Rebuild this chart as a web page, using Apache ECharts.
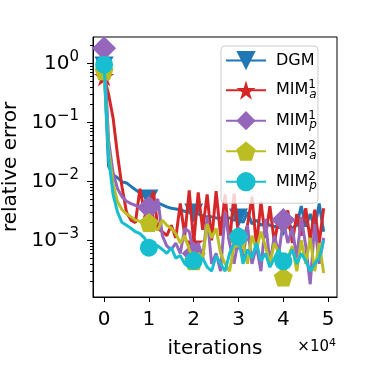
<!DOCTYPE html>
<html>
<head>
<meta charset="utf-8">
<script src="https://cdn.jsdelivr.net/npm/echarts@6/dist/echarts.min.js"></script>
<style>
  html, body { margin: 0; padding: 0; background: #fff; }
  #chart { width: 374px; height: 374px; }
</style>
</head>
<body>
<div id="chart"></div>
<script>
// iterations, one point every 1000
const iterations = [];
for (let i = 0; i < 50; i++) iterations.push(i * 1000);

const dgm = [0.9, 0.018, 0.013, 0.0115, 0.0098, 0.0094, 0.0082, 0.0072, 0.0064, 0.0057,
  0.005, 0.0046, 0.0043, 0.004, 0.0037, 0.0035, 0.0034, 0.0033, 0.0031, 0.003,
  0.0029, 0.0028, 0.0026, 0.0025, 0.0025, 0.0024, 0.0024, 0.0023, 0.0024, 0.0022,
  0.0024, 0.002, 0.003, 0.0019, 0.0022, 0.0018, 0.002, 0.0018, 0.0017, 0.0018,
  0.0017, 0.0019, 0.0016, 0.0018, 0.0038, 0.0017, 0.0028, 0.0016, 0.0042, 0.0014];
const mimA1 = [0.6, 0.3, 0.12, 0.028, 0.008, 0.003, 0.0022, 0.002, 0.0075, 0.003,
  0.0035, 0.0068, 0.0016, 0.0014, 0.0012, 0.0018, 0.0011, 0.0042, 0.0012, 0.007,
  0.0009, 0.0065, 0.0015, 0.006, 0.001, 0.0068, 0.0012, 0.006, 0.0009, 0.0062,
  0.0012, 0.001, 0.0018, 0.0055, 0.0008, 0.0045, 0.0011, 0.0038, 0.0009, 0.0025,
  0.0022, 0.0032, 0.0009, 0.0028, 0.0012, 0.0035, 0.001, 0.0033, 0.0009, 0.0035];
const mimP1 = [1.8, 0.05, 0.014, 0.0075, 0.0055, 0.0046, 0.0042, 0.0039, 0.0036, 0.0034,
  0.0036, 0.004, 0.005, 0.0012, 0.0008, 0.0007, 0.0009, 0.0006, 0.0016, 0.0014,
  0.0006, 0.0009, 0.0005, 0.0025, 0.0004, 0.0006, 0.0003, 0.003, 0.0009, 0.0004,
  0.0011, 0.0005, 0.0018, 0.0004, 0.0008, 0.0003, 0.0023, 0.0004, 0.0012, 0.0006,
  0.0022, 0.0009, 0.0016, 0.0005, 0.0025, 0.0008, 0.00018, 0.0019, 0.0004, 0.0011];
const mimA2 = [0.75, 0.035, 0.009, 0.0045, 0.0033, 0.0028, 0.0025, 0.0022, 0.0021, 0.0019,
  0.002, 0.0017, 0.0015, 0.0022, 0.0018, 0.0016, 0.0013, 0.0009, 0.0012, 0.0007,
  0.00045, 0.0006, 0.0005, 0.0019, 0.0011, 0.0016, 0.0006, 0.0004, 0.0003, 0.0008,
  0.0011, 0.0009, 0.0004, 0.0012, 0.0007, 0.0014, 0.0008, 0.0004, 0.0009, 0.0006,
  0.00024, 0.0005, 0.0008, 0.0003, 0.001, 0.0004, 0.0011, 0.0003, 0.0009, 0.00028];
const mimP2 = [0.95, 0.025, 0.006, 0.003, 0.002, 0.0018, 0.0016, 0.0014, 0.0013, 0.0011,
  0.00075, 0.00085, 0.0008, 0.0007, 0.0006, 0.00075, 0.0005, 0.00055, 0.0004, 0.00035,
  0.00045, 0.0004, 0.0005, 0.00035, 0.0003, 0.00055, 0.0004, 0.0003, 0.0006, 0.0009,
  0.00115, 0.0004, 0.0007, 0.0005, 0.0009, 0.00045, 0.0006, 0.00035, 0.0005, 0.0007,
  0.00044, 0.0005, 0.0007, 0.0004, 0.0006, 0.00045, 0.0003, 0.0004, 0.0005, 0.001];

const xTicks = [0, 10000, 20000, 30000, 40000, 50000];
const yTicks = [0.001, 0.01, 0.1, 1];
const yMinorTicks = [];
[0.0001, 0.001, 0.01, 0.1, 1].forEach(function (d) {
  for (let k = 2; k <= 9; k++) yMinorTicks.push(d * k);
});

const chart = echarts.init(document.getElementById('chart'));
const font = 'DejaVu Sans';

function pairs(ys) {
  return ys.map(function (y, i) { return [iterations[i], y]; });
}

function line(name, data, color, symbol, size, z) {
  return {
    name: name,
    type: 'line',
    data: pairs(data),
    z: z,
    symbol: symbol,
    symbolSize: function (v, p) { return p.dataIndex % 10 === 0 ? size : 0; },
    showAllSymbol: true,
    lineStyle: { color: color, width: 3 },
    itemStyle: { color: color, borderWidth: 0 },
    emphasis: { disabled: true }
  };
}

const triDown = 'path://M0,0L10,0L5,9Z';
const pentagon = 'path://M5,0L10,3.8L8.1,9.5L1.9,9.5L0,3.8Z';
const star = 'path://M5,0L6.2,3.6L10,3.6L6.9,5.9L8.1,9.5L5,7.3L1.9,9.5L3.1,5.9L0,3.6L3.8,3.6Z';

function sup(e) { return e < 0 ? '\u2212' + (-e) : '' + e; }

chart.setOption({
  animation: false,
  grid: {
    left: 93, top: 37, right: 37, bottom: 77, outerBoundsMode: 'none',
    show: true, borderColor: '#000', borderWidth: 1
  },
  legend: {
    orient: 'vertical',
    left: 221, top: 46,
    padding: [5, 1, 11, 4],
    itemGap: 9,
    itemWidth: 40, itemHeight: 24,
    backgroundColor: 'rgba(255,255,255,0.8)',
    borderColor: '#cccccc', borderWidth: 1, borderRadius: 4,
    data: ['DGM', 'MIMa1', 'MIMp1', 'MIMa2', 'MIMp2'],
    formatter: function (n) {
      if (n === 'DGM') return 'DGM';
      return 'MIM{sup|' + n[4] + '}{sub|' + n[3] + '}';
    },
    textStyle: {
      fontFamily: font, fontSize: 16, color: '#000', padding: [0, 0, 0, 5],
      rich: {
        sup: { fontFamily: font, fontSize: 12, color: '#000', padding: [0, 0, 10, 0], width: 1 },
        sub: { fontFamily: font, fontSize: 12, color: '#000', fontStyle: 'italic', padding: [9, 0, 0, 0] }
      }
    }
  },
  xAxis: {
    type: 'value', min: -2475, max: 51975,
    name: 'iterations', nameLocation: 'middle', nameGap: 42,
    nameTextStyle: { fontFamily: font, fontSize: 20, color: '#000' },
    splitLine: { show: false },
    axisLine: { show: true, onZero: false, lineStyle: { color: '#000', width: 1 } },
    axisTick: { show: true, customValues: xTicks, length: 5, lineStyle: { color: '#000' } },
    axisLabel: {
      customValues: xTicks, margin: 13, fontFamily: font, fontSize: 20, color: '#000',
      formatter: function (v) { return String(v / 10000); }
    }
  },
  yAxis: [{
    type: 'log', logBase: 10, min: 1.094e-4, max: 2.8,
    name: 'relative error', nameLocation: 'middle', nameGap: 72,
    nameTextStyle: { fontFamily: font, fontSize: 20, color: '#000' },
    splitLine: { show: false },
    axisLine: { show: true, onZero: false, lineStyle: { color: '#000', width: 1 } },
    axisTick: { show: true, customValues: yTicks, length: 6, lineStyle: { color: '#000' } },
    axisLabel: {
      customValues: yTicks, margin: 14, fontFamily: font, fontSize: 20, color: '#000',
      formatter: function (v) {
        const e = Math.round(Math.log10(v));
        if (Math.abs(Math.log10(v) - e) > 1e-6) return '';
        return '10{sup|' + sup(e) + '}';
      },
      rich: { sup: { fontFamily: font, fontSize: 15, color: '#000', padding: [0, 0, 12, 0] } }
    }
  }, {
    type: 'log', logBase: 10, min: 1.094e-4, max: 2.8, position: 'left',
    splitLine: { show: false },
    axisLine: { show: false, onZero: false },
    axisTick: { show: true, customValues: yMinorTicks, length: 3, lineStyle: { color: '#000' } },
    axisLabel: { show: false }
  }],
  graphic: [{
    type: 'text', right: 38, top: 338,
    style: {
      text: '\u00d710{s|4}', fontFamily: font, fontSize: 15, fill: '#000',
      rich: { s: { fontFamily: font, fontSize: 11, fill: '#000', padding: [0, 0, 8, 0] } }
    }
  }],
  series: [
    line('DGM', dgm, '#1f77b4', triDown, 19, 2),
    line('MIMa1', mimA1, '#d62728', star, 20, 3),
    line('MIMp1', mimP1, '#9467bd', 'diamond', 24, 4),
    line('MIMa2', mimA2, '#bcbd22', pentagon, 19, 5),
    line('MIMp2', mimP2, '#17becf', 'circle', 18, 6)
  ]
});
</script>
</body>
</html>
